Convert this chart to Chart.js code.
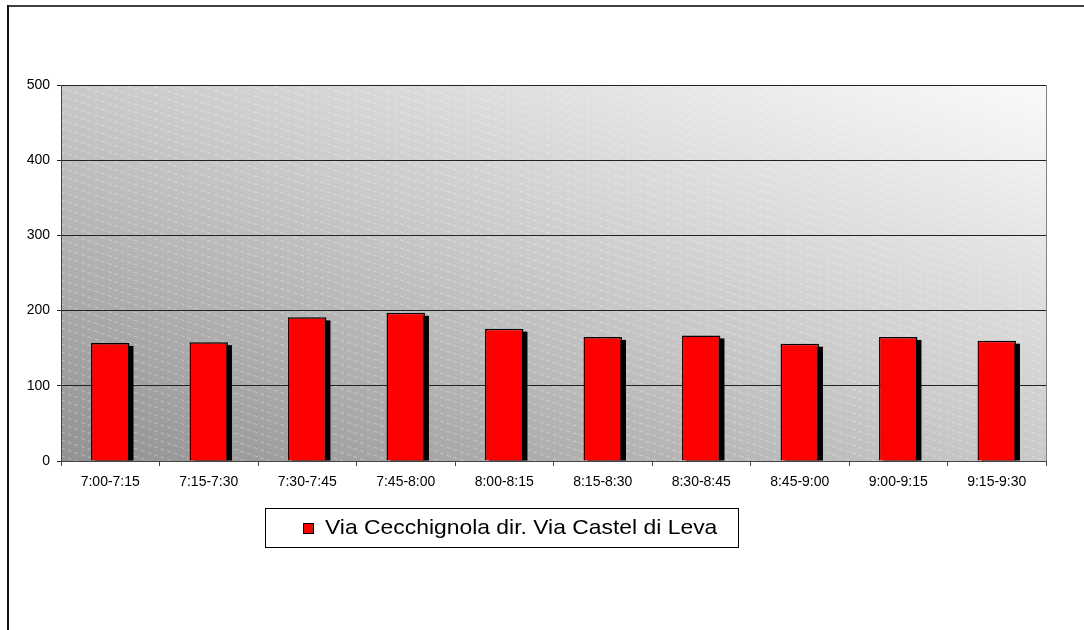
<!DOCTYPE html>
<html>
<head>
<meta charset="utf-8">
<script src="https://cdn.jsdelivr.net/npm/chart.js@4/dist/chart.umd.min.js"></script>
<style>
  html, body { margin: 0; padding: 0; background: #fff; }
  #wrap { position: relative; width: 1084px; height: 630px; }
</style>
</head>
<body>
<div id="wrap"><canvas id="trafficChart" width="1084" height="630"></canvas></div>
<script>
// time slots and counted vehicles
const timeSlots = ['7:00-7:15', '7:15-7:30', '7:30-7:45', '7:45-8:00', '8:00-8:15',
    '8:15-8:30', '8:30-8:45', '8:45-9:00', '9:00-9:15', '9:15-9:30'];
const vehicleCounts = [157, 158, 191, 197, 176, 165, 167, 156, 165, 160];
const seriesName = 'Via Cecchignola dir. Via Castel di Leva';
const yTicks = [0, 100, 200, 300, 400, 500];

// gray gradient + diagonal dashed hatching behind the plot, plus outer frame
const plotBackground = {
    id: 'plotBackground',
    beforeDraw(chart) {
        const { ctx, chartArea: a } = chart;
        ctx.save();
        // outer frame (top + left only, as in the source)
        ctx.fillStyle = '#404040';
        ctx.fillRect(7, 5, chart.width - 7, 2);
        ctx.fillStyle = '#111';
        ctx.fillRect(7, 5, 2, chart.height - 5);

        // "diagonal up" gradient: corners top-left and bottom-right share a tone
        const w = a.right - a.left, h = a.bottom - a.top;
        const cx = a.left + w / 2, cy = a.top + h / 2;
        const len = Math.hypot(w, h);
        const dx = h / len, dy = -w / len;
        const reach = (w / 2) * dx - (h / 2) * dy;
        const g = ctx.createLinearGradient(cx - dx * reach, cy - dy * reach, cx + dx * reach, cy + dy * reach);
        g.addColorStop(0, '#929292');
        g.addColorStop(0.5, '#c9c9c9');
        g.addColorStop(1, '#fafafa');
        ctx.fillStyle = g;
        ctx.fillRect(a.left, a.top, w, h);

        ctx.beginPath();
        ctx.rect(a.left, a.top, w, h);
        ctx.clip();
        ctx.strokeStyle = 'rgba(255,255,255,0.35)';
        ctx.lineWidth = 1;
        ctx.setLineDash([4, 3]);
        const slope = 0.33;
        for (let y = a.top - w * slope; y < a.bottom + 10; y += 8) {
            ctx.beginPath();
            ctx.moveTo(a.left, y);
            ctx.lineTo(a.right, y + w * slope);
            ctx.stroke();
        }
        ctx.restore();

        ctx.save();
        ctx.strokeStyle = '#808080';
        ctx.lineWidth = 1;
        ctx.beginPath();
        ctx.moveTo(Math.round(a.right) + 0.5, a.top);
        ctx.lineTo(Math.round(a.right) + 0.5, a.bottom);
        ctx.stroke();
        ctx.restore();
    }
};

// hard black drop shadow behind each bar, taken from the bar elements
const barShadow = {
    id: 'barShadow',
    beforeDatasetsDraw(chart) {
        const { ctx, chartArea: a } = chart;
        const meta = chart.getDatasetMeta(0);
        ctx.save();
        ctx.fillStyle = '#000';
        meta.data.forEach(bar => {
            const p = bar.getProps(['x', 'y', 'base', 'width'], true);
            const left = p.x - p.width / 2 + 4;
            const top = p.y + 3;
            const bottom = Math.min(p.base, a.bottom);
            ctx.fillRect(left, top, p.width, bottom - top);
        });
        ctx.restore();
    }
};

// framed legend box below the axis
const boxLegend = {
    id: 'boxLegend',
    afterDraw(chart) {
        const ctx = chart.ctx;
        const ds = chart.data.datasets[0];
        const x0 = 265, y0 = 508, w = 473, h = 39;
        const stretch = 1.09;
        ctx.save();
        ctx.strokeStyle = '#000';
        ctx.lineWidth = 1;
        ctx.strokeRect(x0 + 0.5, y0 + 0.5, w, h);
        ctx.font = '21px "Liberation Sans", Arial, sans-serif';
        ctx.textBaseline = 'middle';
        const box = 11, gap = 11;
        const x = x0 + 38;
        const cy = y0 + h / 2 + 1;
        ctx.fillStyle = ds.backgroundColor;
        ctx.fillRect(x, cy - box / 2, box, box);
        ctx.strokeRect(x + 0.5, cy - box / 2 + 0.5, box - 1, box - 1);
        ctx.fillStyle = '#000';
        ctx.translate(x + box + gap, cy);
        ctx.scale(stretch, 1);
        ctx.fillText(ds.label, 0, 0);
        ctx.restore();
    }
};

document.addEventListener('DOMContentLoaded', () => {
    const ctx = document.getElementById('trafficChart').getContext('2d');
    const tickFont = { family: '"Liberation Sans", Arial, sans-serif', size: 14 };

    new Chart(ctx, {
        type: 'bar',
        data: {
            labels: timeSlots,
            datasets: [{
                label: seriesName,
                data: vehicleCounts,
                backgroundColor: '#ff0000',
                borderColor: '#000',
                borderWidth: 1.5,
                categoryPercentage: 1,
                barPercentage: 0.39
            }]
        },
        options: {
            responsive: false,
            animation: false,
            layout: { padding: { left: 0, right: 38, top: 85, bottom: 129 } },
            plugins: {
                legend: { display: false },
                tooltip: { enabled: false }
            },
            scales: {
                x: {
                    offset: true,
                    afterFit: s => { s.height = 40; },
                    grid: { offset: true, drawOnChartArea: false, tickLength: 5, color: '#444' },
                    border: { color: '#444' },
                    ticks: { color: '#000', font: tickFont, padding: 8, maxRotation: 0 }
                },
                y: {
                    min: 0,
                    max: 500,
                    afterFit: s => { s.width = 61; },
                    afterBuildTicks: s => { s.ticks = yTicks.map(v => ({ value: v })); },
                    grid: { color: '#222', tickLength: 4 },
                    border: { color: '#444' },
                    ticks: { color: '#000', font: tickFont, padding: 7 }
                }
            }
        },
        plugins: [plotBackground, barShadow, boxLegend]
    });
});
</script>
</body>
</html>
